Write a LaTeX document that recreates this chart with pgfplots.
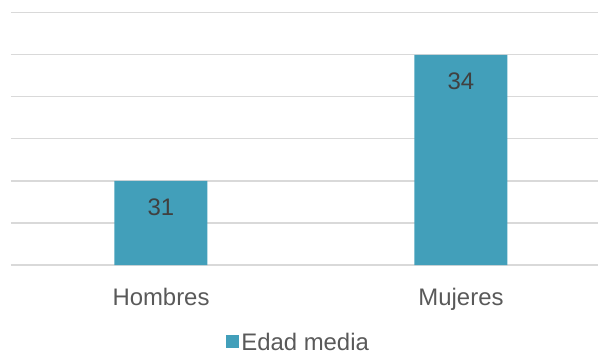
\documentclass[border=0pt]{standalone}
\usepackage{pgfplots}
\pgfplotsset{compat=1.18}
\usepackage{fontspec}
\setmainfont{Liberation Sans}
\definecolor{barc}{HTML}{429FBA}
\definecolor{gridc}{HTML}{D9D9D9}
\definecolor{tickc}{HTML}{595959}
\definecolor{valc}{HTML}{404040}
\begin{document}
\begin{tikzpicture}
\begin{axis}[
  /pgf/number format/assume math mode=true,
  scale only axis,
  width=587bp, height=252.3bp,
  xmin=-0.5, xmax=1.4567,
  ymin=29, ymax=35,
  ytick={29,30,...,35},
  yticklabels={},
  xtick={0,1},
  xticklabels={Hombres,Mujeres},
  ymajorgrids,
  grid style={gridc, line width=1.2bp},
  axis line style={draw=none},
  major tick length=0pt,
  xticklabel style={font=\fontsize{24}{28}\selectfont, text=tickc, anchor=base, yshift=-40bp, inner sep=0pt},
  ybar, bar width=0.31,
  nodes near coords,
  every node near coord/.append style={font=\fontsize{24}{28}\selectfont, text=valc, anchor=base, yshift=-35bp, inner sep=0pt},
  legend style={at={(axis description cs:0.490,-0.304)}, anchor=center, draw=none, fill=none, inner sep=0pt, font=\fontsize{24}{28}\selectfont, text=tickc, nodes={inner ysep=0pt, inner xsep=2.5bp, text depth=0pt}},
  legend image code/.code={\fill[barc] (0bp,-6.5bp) rectangle (13bp,6.5bp);},
]
\addplot[fill=barc, draw=none] coordinates {(0,31) (1,34)};
\addlegendentry{Edad media}
\coordinate (sw) at (rel axis cs:0,0);
\coordinate (ne) at (rel axis cs:1,1);
\end{axis}
\pgfresetboundingbox
\path[use as bounding box] ([xshift=-11bp,yshift=-89bp]sw) rectangle ([yshift=12.7bp]ne);
\end{tikzpicture}
\end{document}
